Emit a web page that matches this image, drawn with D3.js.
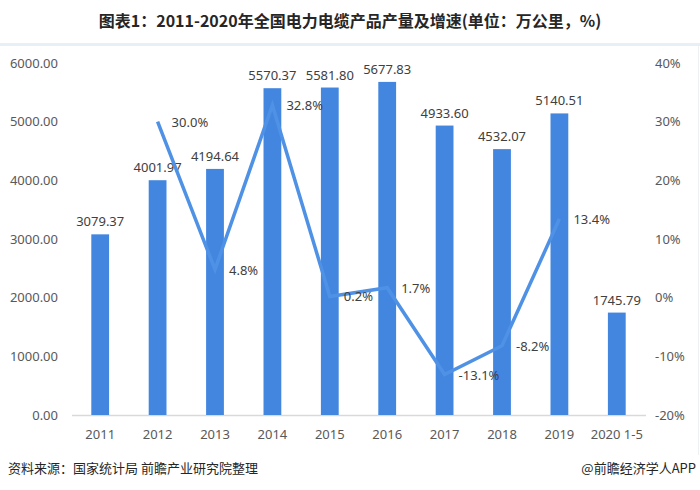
<!DOCTYPE html>
<html><head><meta charset="utf-8">
<script src="https://cdn.jsdelivr.net/npm/d3@7"></script>
<style>body{margin:0;background:#fff}svg{display:block;font-family:"Noto Sans CJK SC","Noto Sans",sans-serif}</style>
</head><body><svg id="c" width="700" height="490"></svg>
<script>
const categories = ["2011","2012","2013","2014","2015","2016","2017","2018","2019","2020 1-5"];
const output = [3079.37,4001.97,4194.64,5570.37,5581.80,5677.83,4933.60,4532.07,5140.51,1745.79];
const growth = [null,30.0,4.8,32.8,0.2,1.7,-13.1,-8.2,13.4,null];
const leftTicks = [0,1000,2000,3000,4000,5000,6000];
const rightTicks = [-20,-10,0,10,20,30,40];
const title = "图表1：2011-2020年全国电力电缆产品产量及增速(单位：万公里，%)";
const source = "资料来源：国家统计局 前瞻产业研究院整理";
const credit = "@前瞻经济学人APP";

const svg = d3.select("#c");
const plotTop = 63, plotBottom = 415;
const x = d3.scaleBand().domain(categories).range([71.5, 645.5]).paddingInner(0.69).paddingOuter(0.345);
const y = d3.scaleLinear().domain([0,6000]).range([plotBottom, plotTop]);
const y2 = d3.scaleLinear().domain([-20,40]).range([plotBottom, plotTop]);
const txt = "#595959";

// frame
svg.append("rect").attr("x",0).attr("y",43).attr("width",700).attr("height",3).attr("fill","#e9eff6");
svg.append("line").attr("x1",698.5).attr("x2",698.5).attr("y1",46).attr("y2",455).attr("stroke","#eef1f4");

svg.append("text").attr("x",350).attr("y",27).attr("text-anchor","middle")
  .attr("font-size",16).attr("font-weight","bold").attr("fill","#262626").text(title);

// left axis
const ga = svg.append("g").attr("transform","translate(58,0)")
  .call(d3.axisLeft(y).tickValues(leftTicks).tickFormat(d3.format(".2f")).tickSize(0).tickPadding(0));
ga.select(".domain").remove();
ga.selectAll("text").attr("font-size",13).attr("fill",txt).attr("font-family","'Noto Sans','Open Sans',sans-serif");

// right axis
const gr = svg.append("g").attr("transform","translate(655,0)")
  .call(d3.axisRight(y2).tickValues(rightTicks).tickFormat(d=>d+"%").tickSize(0).tickPadding(0));
gr.select(".domain").remove();
gr.selectAll("text").attr("font-size",13).attr("fill",txt).attr("font-family","'Noto Sans','Open Sans',sans-serif");

// x axis
const gx = svg.append("g").attr("transform",`translate(0,${plotBottom})`)
  .call(d3.axisBottom(x).tickSize(0).tickPadding(15));
gx.select(".domain").attr("stroke","#d9d9d9").attr("stroke-width",1.5);
gx.selectAll("text").attr("font-size",13).attr("fill",txt).attr("font-family","'Noto Sans','Open Sans',sans-serif");

// bars
svg.append("g").selectAll("rect").data(output).join("rect")
  .attr("x",(d,i)=>x(categories[i])).attr("width",x.bandwidth())
  .attr("y",d=>y(d)).attr("height",d=>plotBottom-y(d)).attr("fill","#4286e0");
svg.append("g").selectAll("text").data(output).join("text")
  .attr("x",(d,i)=>x(categories[i])+x.bandwidth()/2).attr("y",d=>y(d)-8)
  .attr("text-anchor","middle").attr("font-size",13).attr("fill","#404040")
  .attr("font-family","'Noto Sans','Open Sans',sans-serif")
  .text(d=>d.toFixed(2));

// line
const pts = growth.map((g,i)=>({g,c:categories[i]})).filter(p=>p.g!==null);
const cx = c => x(c)+x.bandwidth()/2;
svg.append("path").datum(pts)
  .attr("d", d3.line().x(p=>cx(p.c)).y(p=>y2(p.g)))
  .attr("fill","none").attr("stroke","#4f92e5").attr("stroke-width",3.5).attr("stroke-linejoin","miter");
svg.append("g").selectAll("text").data(pts).join("text")
  .attr("x",p=>cx(p.c)+14).attr("y",p=>y2(p.g)+5)
  .attr("font-size",13).attr("fill","#404040")
  .attr("font-family","'Noto Sans','Open Sans',sans-serif")
  .text(p=>p.g.toFixed(1)+"%");

// footer
svg.append("text").attr("x",8).attr("y",473).attr("font-size",13).attr("fill","#262626").text(source);
svg.append("text").attr("x",696).attr("y",473).attr("text-anchor","end").attr("font-size",13).attr("fill","#262626").text(credit);
</script></body></html>
